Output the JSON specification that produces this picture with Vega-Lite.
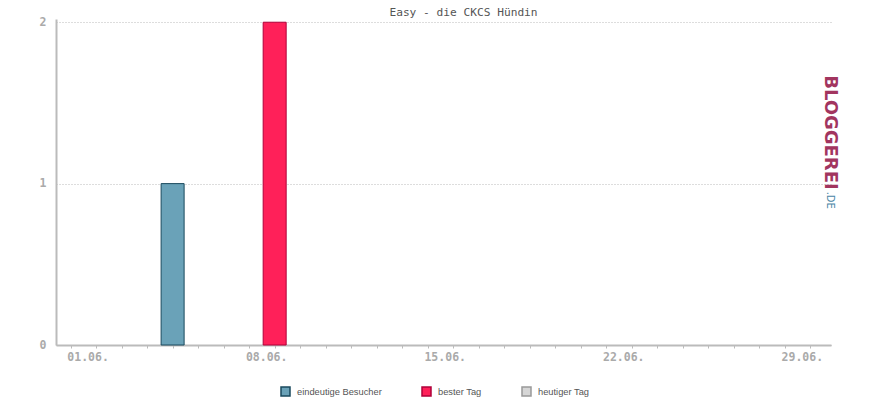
{
  "$schema": "https://vega.github.io/schema/vega-lite/v6.json",
  "width": 775,
  "height": 326,
  "autosize": {"type": "none"},
  "padding": {"left": 56, "top": 19, "right": 39, "bottom": 55},
  "background": "white",
  "title": {
    "text": "Easy - die CKCS Hündin",
    "font": "DejaVu Sans Mono",
    "fontSize": 11.2,
    "fontWeight": "normal",
    "color": "#555555",
    "anchor": "middle",
    "dx": 20,
    "offset": -2
  },
  "config": {
    "view": {"stroke": null},
    "axis": {
      "labelFont": "DejaVu Sans Mono",
      "labelFontSize": 11.5,
      "labelFontWeight": "bold",
      "labelColor": "#aaaaaa",
      "domainColor": "#bbbbbb",
      "domainWidth": 2,
      "tickColor": "#bbbbbb",
      "title": null
    }
  },
  "data": {
    "values": [
      {"day": 5, "value": 1, "series": "eindeutige Besucher"},
      {"day": 9, "value": 2, "series": "bester Tag"}
    ]
  },
  "layer": [
    {
      "mark": {"type": "bar", "width": 23, "strokeWidth": 1, "clip": false},
      "encoding": {
        "x": {
          "field": "day",
          "type": "quantitative",
          "scale": {"domain": [0.428, 30.81], "nice": false, "zero": false, "padding": 0},
          "axis": {
            "values": [1,2,3,4,5,6,7,8,9,10,11,12,13,14,15,16,17,18,19,20,21,22,23,24,25,26,27,28,29,30],
            "tickCount": 30,
            "labelExpr": "(datum.value % 7 == 1) ? ((datum.value < 10 ? '0' : '') + datum.value + '.06.') : ''",
            "labelOverlap": false,
            "labelOffset": 17,
            "labelPadding": 3,
            "tickSize": 3,
            "grid": false
          }
        },
        "y": {
          "field": "value",
          "type": "quantitative",
          "scale": {"domain": [0, 2.02], "nice": false},
          "axis": {
            "values": [0, 1, 2],
            "labelExpr": "format(datum.value, '.0f')",
            "grid": true,
            "gridColor": "#bbbbbb",
            "gridDash": [1, 2],
            "gridWidth": 1,
            "tickSize": 0,
            "labelPadding": 10
          }
        },
        "fill": {
          "field": "series",
          "type": "nominal",
          "scale": {
            "domain": ["eindeutige Besucher", "bester Tag", "heutiger Tag"],
            "range": ["#6aa2b8", "#ff2059", "#d6d6d6"]
          },
          "legend": {
            "title": null,
            "orient": "none",
            "legendX": 224,
            "legendY": 367,
            "direction": "horizontal",
            "symbolType": "square",
            "symbolSize": 81,
            "symbolStrokeWidth": 1.5,
            "labelFont": "Liberation Sans",
            "labelFontSize": 9.3,
            "labelColor": "#555555",
            "labelOffset": 6,
            "columnPadding": 37
          }
        },
        "stroke": {
          "field": "series",
          "type": "nominal",
          "scale": {
            "domain": ["eindeutige Besucher", "bester Tag", "heutiger Tag"],
            "range": ["#1a4a5e", "#b0003a", "#999999"]
          },
          "legend": null
        }
      }
    },
    {
      "data": {"values": [{"logo": "BLOGGEREI"}]},
      "mark": {"type": "text", "angle": 90, "align": "left", "baseline": "middle", "font": "DejaVu Sans", "fontWeight": "bold", "fontSize": 18, "color": "#a2355f", "clip": false},
      "encoding": {
        "x": {"datum": 30.76, "type": "quantitative"},
        "y": {"datum": 1.672, "type": "quantitative"},
        "text": {"field": "logo"}
      }
    },
    {
      "data": {"values": [{"logo": ".DE"}]},
      "mark": {"type": "text", "angle": 90, "align": "left", "baseline": "middle", "font": "DejaVu Sans", "fontSize": 10, "color": "#4a86a6", "clip": false},
      "encoding": {
        "x": {"datum": 30.76, "type": "quantitative"},
        "y": {"datum": 0.95, "type": "quantitative"},
        "text": {"field": "logo"}
      }
    }
  ]
}
